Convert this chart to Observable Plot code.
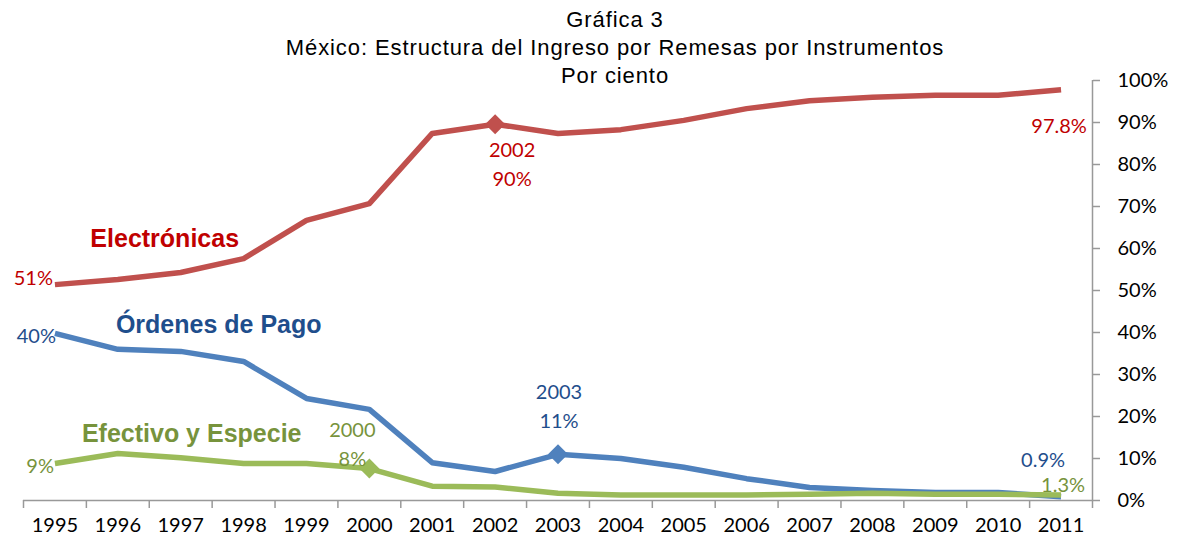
<!DOCTYPE html>
<html>
<head>
<meta charset="utf-8">
<script src="https://cdn.jsdelivr.net/npm/d3@7"></script>
<script src="https://cdn.jsdelivr.net/npm/@observablehq/plot@0.6"></script>
<style>
  html, body { margin: 0; padding: 0; background: #fff; }
  #wrap { position: relative; width: 1182px; height: 542px; overflow: hidden; }
  #title { position: absolute; left: 0; top: 6px; width: 1230px; text-align: center;
    font-family: "Liberation Sans", Arial, sans-serif; font-size: 22px; letter-spacing: 0.9px; line-height: 28px; color: #000; }
</style>
</head>
<body>
<div id="wrap">
  <div id="chart"></div>
  <div id="title">Gráfica 3<br>México: Estructura del Ingreso por Remesas por Instrumentos<br>Por ciento</div>
</div>
<script>
const years = [1995, 1996, 1997, 1998, 1999, 2000, 2001, 2002, 2003, 2004, 2005, 2006, 2007, 2008, 2009, 2010, 2011];
const electronicas = [51.4, 52.6, 54.3, 57.6, 66.7, 70.7, 87.4, 89.6, 87.4, 88.3, 90.5, 93.3, 95.2, 96.0, 96.5, 96.5, 97.8];
const ordenes = [39.8, 36.0, 35.5, 33.1, 24.3, 21.7, 9.0, 6.9, 11.0, 10.0, 7.9, 5.2, 3.1, 2.4, 1.9, 1.9, 0.9];
const efectivo = [8.8, 11.2, 10.2, 8.8, 8.8, 7.6, 3.4, 3.2, 1.7, 1.3, 1.3, 1.3, 1.5, 1.7, 1.5, 1.5, 1.3];
const yTicks = [0, 10, 20, 30, 40, 50, 60, 70, 80, 90, 100];

const colors = {E: "#C0504D", O: "#4F81BD", F: "#9BBB59"};
const textColors = {E: "#C00000", O: "#1F4E8C", F: "#77933C"};

const rows = (vals, s) => years.map((y, i) => ({year: y, value: vals[i], s}));
const dE = rows(electronicas, "E"), dO = rows(ordenes, "O"), dF = rows(efectivo, "F");
const boundaries = years.map(y => y - 0.5).concat([years[years.length - 1] + 0.5]);
const pick = (d, yr) => d.filter(r => r.year === yr);

const labelFont = "Lato, 'Open Sans', sans-serif";
const boldFont = "'Liberation Sans', Arial, sans-serif";
const annot = (data, text, opts) => Plot.text(data, {x: "year", y: "value", text: () => text, fontFamily: labelFont, fontSize: 20, lineHeight: 1.45, ...opts});
const seriesLabel = (data, text, fill, dx, dy) => Plot.text(data, {x: "year", y: "value", text: () => text, fill, dx, dy, fontFamily: boldFont, fontWeight: "bold", fontSize: 25, letterSpacing: 0.8});

const chart = Plot.plot({
  width: 1182,
  height: 542,
  marginLeft: 23,
  marginRight: 90,
  marginTop: 80,
  marginBottom: 42,
  style: {background: "#fff", fontFamily: labelFont},
  x: {type: "linear", domain: [years[0] - 0.5, years[years.length - 1] + 0.5], label: null, axis: null},
  y: {domain: [0, 100], label: null, axis: null},
  marks: [
    Plot.ruleY([0], {stroke: "#999", strokeWidth: 1.5}),
    Plot.ruleX([boundaries[boundaries.length - 1]], {stroke: "#999", strokeWidth: 1.5}),
    Plot.axisX(boundaries, {tickSize: 8, stroke: "#999", strokeWidth: 1.5, tickFormat: () => "", label: null}),
    Plot.text(years, {x: d => d, frameAnchor: "bottom", dy: 31, text: d => String(d), fontSize: 20, fill: "#000", fontFamily: labelFont}),
    Plot.axisY(yTicks, {anchor: "right", tickSize: 7, stroke: "#999", strokeWidth: 1.5, tickFormat: () => "", label: null}),
    Plot.text(yTicks, {y: d => d, frameAnchor: "right", dx: 25, textAnchor: "start", text: d => d + "%", fontSize: 20, fill: "#000", fontFamily: labelFont}),
    Plot.lineY(dE, {x: "year", y: "value", stroke: colors.E, strokeWidth: 5.5, strokeLinecap: "butt", strokeLinejoin: "round"}),
    Plot.lineY(dO, {x: "year", y: "value", stroke: colors.O, strokeWidth: 5.5, strokeLinecap: "butt", strokeLinejoin: "round"}),
    Plot.lineY(dF, {x: "year", y: "value", stroke: colors.F, strokeWidth: 5.5, strokeLinecap: "butt", strokeLinejoin: "round"}),
    Plot.dot(pick(dE, 2002), {x: "year", y: "value", symbol: "diamond2", r: 9, fill: colors.E, stroke: "none"}),
    Plot.dot(pick(dO, 2003), {x: "year", y: "value", symbol: "diamond2", r: 9, fill: colors.O, stroke: "none"}),
    Plot.dot(pick(dF, 2000), {x: "year", y: "value", symbol: "diamond2", r: 9, fill: colors.F, stroke: "none"}),
    annot(pick(dE, 1995), "51%", {fill: textColors.E, textAnchor: "end", dx: -2, dy: -9}),
    annot(pick(dO, 1995), "40%", {fill: textColors.O, textAnchor: "end", dx: 1, dy: 0}),
    annot(pick(dF, 1995), "9%", {fill: textColors.F, textAnchor: "end", dx: -1, dy: 0}),
    annot(pick(dE, 2002), "2002\n90%", {fill: textColors.E, dx: 17, dy: 38}),
    annot(pick(dE, 2011), "97.8%", {fill: textColors.E, dx: -2, dy: 34}),
    annot(pick(dO, 2003), "2003\n11%", {fill: textColors.O, dx: 1, dy: -50}),
    annot(pick(dF, 2000), "2000\n8%", {fill: textColors.F, dx: -17, dy: -26}),
    annot(pick(dO, 2011), "0.9%", {fill: textColors.O, dx: -18, dy: -39}),
    annot(pick(dF, 2011), "1.3%", {fill: textColors.F, dx: 2, dy: -12}),
    seriesLabel(pick(dE, 1997), "Electrónicas", textColors.E, -16, -33),
    seriesLabel(pick(dO, 1997), "Órdenes de Pago", textColors.O, 38, -26),
    seriesLabel(pick(dF, 1997), "Efectivo y Especie", textColors.F, 11, -24)
  ]
});
document.getElementById("chart").appendChild(chart);
</script>
</body>
</html>
